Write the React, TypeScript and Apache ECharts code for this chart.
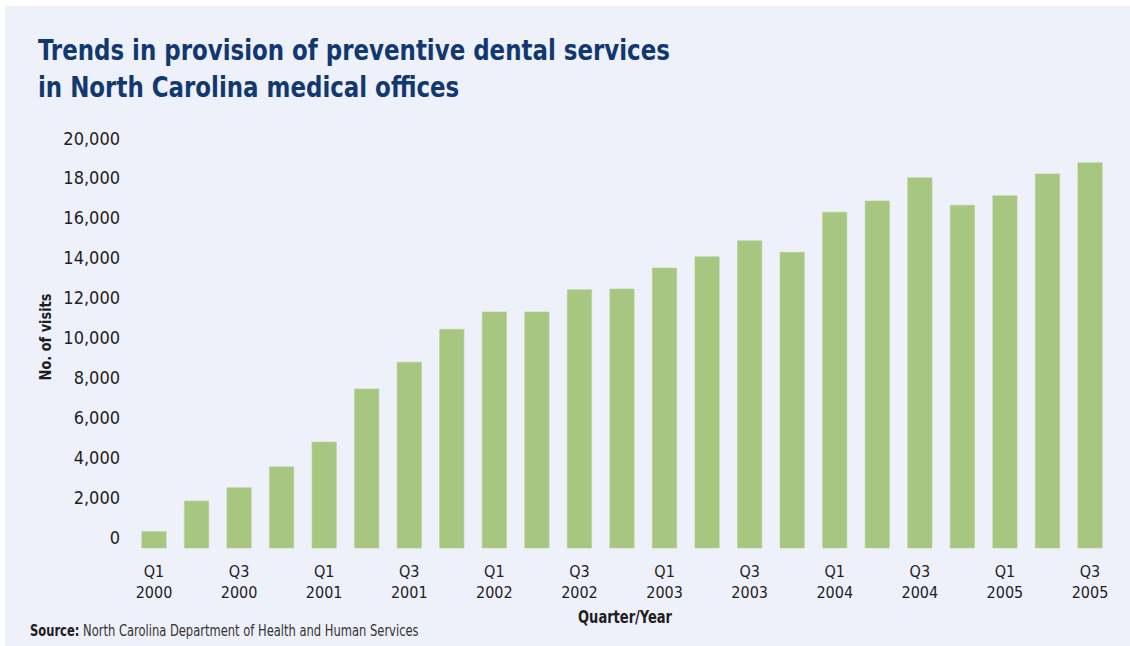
import React, { useEffect, useRef } from 'react';
import * as echarts from 'echarts';

const categories = [
  'Q1 2000', 'Q2 2000', 'Q3 2000', 'Q4 2000',
  'Q1 2001', 'Q2 2001', 'Q3 2001', 'Q4 2001',
  'Q1 2002', 'Q2 2002', 'Q3 2002', 'Q4 2002',
  'Q1 2003', 'Q2 2003', 'Q3 2003', 'Q4 2003',
  'Q1 2004', 'Q2 2004', 'Q3 2004', 'Q4 2004',
  'Q1 2005', 'Q2 2005', 'Q3 2005',
];

const visits = [
  270, 1800, 2470, 3520,
  4760, 7420, 8760, 10410,
  11280, 11280, 12400, 12430,
  13480, 14050, 14850, 14270,
  16280, 16840, 18010, 16630,
  17110, 18200, 18760,
];

const yTicks = [0, 2000, 4000, 6000, 8000, 10000, 12000, 14000, 16000, 18000, 20000];

const titleLines = [
  'Trends in provision of preventive dental services',
  'in North Carolina medical offices',
];
const yAxisTitle = 'No. of visits';
const xAxisTitle = 'Quarter/Year';
const sourceLabel = 'Source:';
const sourceText = 'North Carolina Department of Health and Human Services';

const NARROW = "'Liberation Sans Narrow', 'DejaVu Sans Condensed', 'Arial Narrow', sans-serif";
const BAR_COLOR = '#a7c680';
const TITLE_COLOR = '#12396f';
const TEXT_COLOR = '#1e1e1e';

function measure(text: string, font: string): number {
  const c = document.createElement('canvas');
  const ctx = c.getContext('2d');
  if (!ctx) return 0;
  ctx.font = font;
  return ctx.measureText(text).width;
}

export default function App() {
  const ref = useRef<HTMLDivElement>(null);

  useEffect(() => {
    if (!ref.current) return;
    const chart = echarts.init(ref.current, undefined, { renderer: 'svg' });

    const titleSize = 29;
    const titleW = measure(titleLines[0], `bold ${titleSize}px ${NARROW}`);
    const titleScale = titleW > 0 ? 632 / titleW : 1;

    const srcSize = 15;
    const srcBoldW = measure(sourceLabel + ' ', `bold ${srcSize}px ${NARROW}`);
    const srcRegW = measure(sourceText, `${srcSize}px ${NARROW}`);
    const srcScale = srcBoldW + srcRegW > 0 ? 389 / (srcBoldW + srcRegW) : 1;

    const yTitleSize = 16;
    const yTitleW = measure(yAxisTitle, `bold ${yTitleSize}px ${NARROW}`);
    const yTitleScale = yTitleW > 0 ? 87 / yTitleW : 1;

    const xTitleSize = 17;
    const xTitleW = measure(xAxisTitle, `bold ${xTitleSize}px ${NARROW}`);
    const xTitleScale = xTitleW > 0 ? 94 / xTitleW : 1;

    const option: any = {
      animation: false,
      backgroundColor: '#ffffff',
      grid: {
        left: 132.7,
        top: 138,
        width: 978.6,
        height: 410,
        containLabel: false,
      },
      xAxis: {
        type: 'category',
        data: categories,
        axisLine: { show: false },
        axisTick: { show: false },
        splitLine: { show: false },
        axisLabel: {
          interval: 1,
          margin: 13,
          fontFamily: NARROW,
          fontSize: 16,
          lineHeight: 21,
          color: TEXT_COLOR,
          formatter: (v: string) => v.replace(' ', '\n'),
        },
      },
      yAxis: {
        type: 'value',
        min: -550,
        max: 20000,
        axisLine: { show: false },
        axisTick: { show: false },
        splitLine: { show: false },
        axisLabel: {
          customValues: yTicks,
          margin: 12.7,
          fontFamily: NARROW,
          fontSize: 18,
          color: TEXT_COLOR,
          formatter: (v: number) => v.toLocaleString('en-US'),
        },
      },
      graphic: [
        {
          type: 'rect',
          z: -10,
          silent: true,
          shape: { x: 5, y: 6, width: 1125, height: 640 },
          style: { fill: '#eef0fa' },
        },
        {
          type: 'text',
          x: 38,
          y: 50,
          scaleX: titleScale,
          style: {
            text: titleLines[0],
            font: `bold ${titleSize}px ${NARROW}`,
            fill: TITLE_COLOR,
            textVerticalAlign: 'middle',
            textAlign: 'left',
          },
        },
        {
          type: 'text',
          x: 38,
          y: 86.5,
          scaleX: titleScale,
          style: {
            text: titleLines[1],
            font: `bold ${titleSize}px ${NARROW}`,
            fill: TITLE_COLOR,
            textVerticalAlign: 'middle',
            textAlign: 'left',
          },
        },
        {
          type: 'text',
          x: 46,
          y: 337,
          rotation: Math.PI / 2,
          scaleX: yTitleScale,
          style: {
            text: yAxisTitle,
            font: `bold ${yTitleSize}px ${NARROW}`,
            fill: TEXT_COLOR,
            textAlign: 'center',
            textVerticalAlign: 'middle',
          },
        },
        {
          type: 'text',
          x: 625,
          y: 617,
          scaleX: xTitleScale,
          style: {
            text: xAxisTitle,
            font: `bold ${xTitleSize}px ${NARROW}`,
            fill: TEXT_COLOR,
            textAlign: 'center',
            textVerticalAlign: 'middle',
          },
        },
        {
          type: 'text',
          x: 30,
          y: 631,
          scaleX: srcScale,
          style: {
            text: `{b|${sourceLabel}} {r|${sourceText}}`,
            fill: TEXT_COLOR,
            textAlign: 'left',
            textVerticalAlign: 'middle',
            rich: {
              b: { font: `bold ${srcSize}px ${NARROW}`, fill: TEXT_COLOR },
              r: { font: `${srcSize}px ${NARROW}`, fill: '#333333' },
            },
            font: `${srcSize}px ${NARROW}`,
          },
        },
      ],
      series: [
        {
          type: 'custom',
          coordinateSystem: 'cartesian2d',
          data: visits.map((v, i) => [i, v]),
          encode: { x: 0, y: 1 },
          renderItem: (params: any, api: any) => {
            const idx = api.value(0);
            const val = api.value(1);
            const top = api.coord([idx, val]);
            const w = api.size([1, 0])[0] * 0.571;
            const cs = params.coordSys;
            const bottom = cs.y + cs.height;
            return {
              type: 'rect',
              shape: { x: top[0] - w / 2, y: top[1], width: w, height: bottom - top[1] },
              style: { fill: BAR_COLOR, stroke: '#b3d092', lineWidth: 0.6 },
            };
          },
        },
      ],
    };

    chart.setOption(option);
    return () => {
      chart.dispose();
    };
  }, []);

  return (
    <div
      ref={ref}
      style={{ position: 'absolute', left: 0, top: 0, width: 1130, height: 646 }}
    />
  );
}
